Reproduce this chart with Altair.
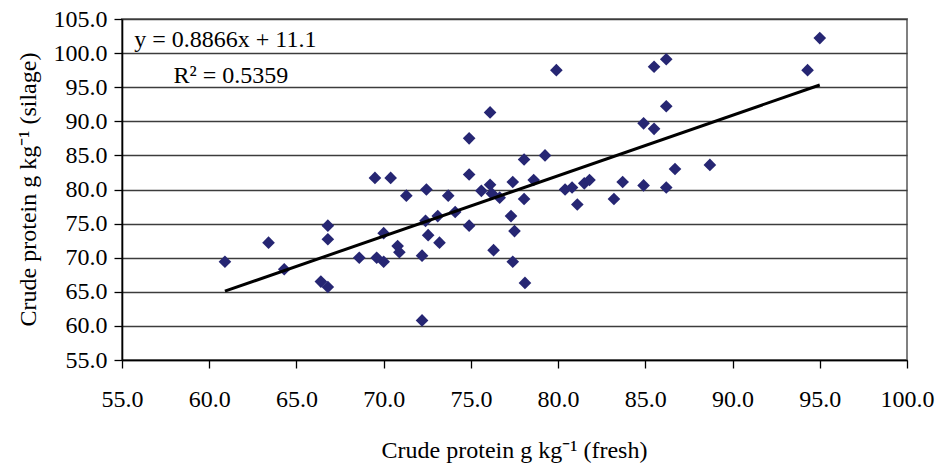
import altair as alt
import pandas as pd

# Crude protein (g/kg) measured in the fresh crop and in the resulting silage
fresh = [60.9, 63.4, 64.3, 66.4, 66.8, 66.8, 66.8, 68.6, 69.5, 69.6,
         70.0, 70.0, 70.4, 70.8, 70.9, 71.3, 72.45, 72.2, 72.2, 72.4,
         72.55, 73.1, 73.2, 73.7, 74.1, 74.9, 74.9, 74.9, 75.6, 76.1,
         76.2, 76.65, 76.3, 76.1, 77.4, 77.3, 77.5, 77.4, 78.05, 78.05,
         78.1, 78.6, 79.25, 79.9, 80.4, 80.8, 81.1, 81.5, 81.8, 83.2,
         83.7, 84.9, 84.9, 85.5, 85.5, 86.2, 86.2, 86.2, 86.7, 88.7,
         94.3, 95.0]
silage = [69.4, 72.2, 68.3, 66.5, 65.7, 74.7, 72.7, 70.0, 81.7, 70.0,
          69.4, 73.6, 81.7, 71.7, 70.8, 79.1, 80.0, 70.3, 60.8, 75.4,
          73.3, 76.1, 72.2, 79.1, 76.7, 87.5, 82.2, 74.7, 79.8, 80.7,
          79.4, 78.8, 71.1, 91.3, 81.1, 76.1, 73.9, 69.4, 84.4, 78.6,
          66.3, 81.4, 85.0, 97.5, 80.0, 80.3, 77.8, 80.9, 81.4, 78.6,
          81.1, 80.6, 89.7, 98.0, 88.9, 99.1, 92.2, 80.3, 83.0, 83.6,
          97.5, 102.2]

# Linear trend as reported
slope = 0.8866
intercept = 11.1
r_squared = 0.5359

x_ticks = [55, 60, 65, 70, 75, 80, 85, 90, 95, 100]
y_ticks = [55, 60, 65, 70, 75, 80, 85, 90, 95, 100, 105]

FONT = "Liberation Serif"
FS = 24

points = pd.DataFrame({"fresh": fresh, "silage": silage})
x_lo, x_hi = min(fresh), max(fresh)
trend = pd.DataFrame({"fresh": [x_lo, x_hi],
                      "silage": [slope * x_lo + intercept, slope * x_hi + intercept]})
labels = pd.DataFrame({
    "text": [f"y = {slope}x + {intercept}", f"R\u00b2 = {r_squared}"],
    "fresh": [55.7, 57.95],
    "silage": [100.9, 95.6],
})

x_scale = alt.Scale(domain=[55, 100], nice=False, zero=False)
y_scale = alt.Scale(domain=[55, 105], nice=False, zero=False)

x_axis = alt.Axis(
    values=x_ticks, format=".1f", grid=False,
    labelFont=FONT, labelFontSize=FS, labelColor="black", labelPadding=19,
    labelOverlap=False, labelFlush=False,
    tickSize=8, tickColor="black", tickWidth=1.3,
    domainColor="black", domainWidth=1.6,
    title="Crude protein g kg\u207b\u00b9 (fresh)",
    titleFont=FONT, titleFontSize=FS, titleFontWeight="normal", titleColor="black",
    titleX=392, titleY=97, titleBaseline="alphabetic", titleAlign="center",
)
y_axis = alt.Axis(
    values=y_ticks, format=".1f", grid=True,
    gridColor="#3c3c3c", gridWidth=1.3,
    labelFont=FONT, labelFontSize=FS, labelColor="black", labelPadding=7,
    labelOverlap=False, labelFlush=False,
    tickSize=8, tickColor="black", tickWidth=1.3,
    domainColor="black", domainWidth=1.6,
    title="Crude protein g kg\u207b\u00b9 (silage)",
    titleFont=FONT, titleFontSize=FS, titleFontWeight="normal", titleColor="black",
    titleX=-94, titleY=170, titleAngle=-90, titleAlign="center", titleBaseline="middle",
)

enc_x = alt.X("fresh:Q", scale=x_scale, axis=x_axis)
enc_y = alt.Y("silage:Q", scale=y_scale, axis=y_axis)

scatter = alt.Chart(points).mark_point(
    shape="diamond", filled=True, size=160, color="#262673", opacity=1
).encode(x=enc_x, y=enc_y)

line = alt.Chart(trend).mark_line(color="black", strokeWidth=3).encode(x=enc_x, y=enc_y)

text = alt.Chart(labels).mark_text(
    font=FONT, fontSize=FS, align="left", baseline="alphabetic", color="black"
).encode(x=enc_x, y=enc_y, text="text:N")

chart = alt.layer(scatter, line, text).properties(
    width=785, height=341,
    autosize=alt.AutoSizeParams(type="none"),
    padding={"left": 122, "top": 19, "right": 31, "bottom": 103},
    background="white",
).configure_view(stroke="#808080", strokeWidth=2)

chart.save("out.html", embed_options={"renderer": "svg", "actions": False})
